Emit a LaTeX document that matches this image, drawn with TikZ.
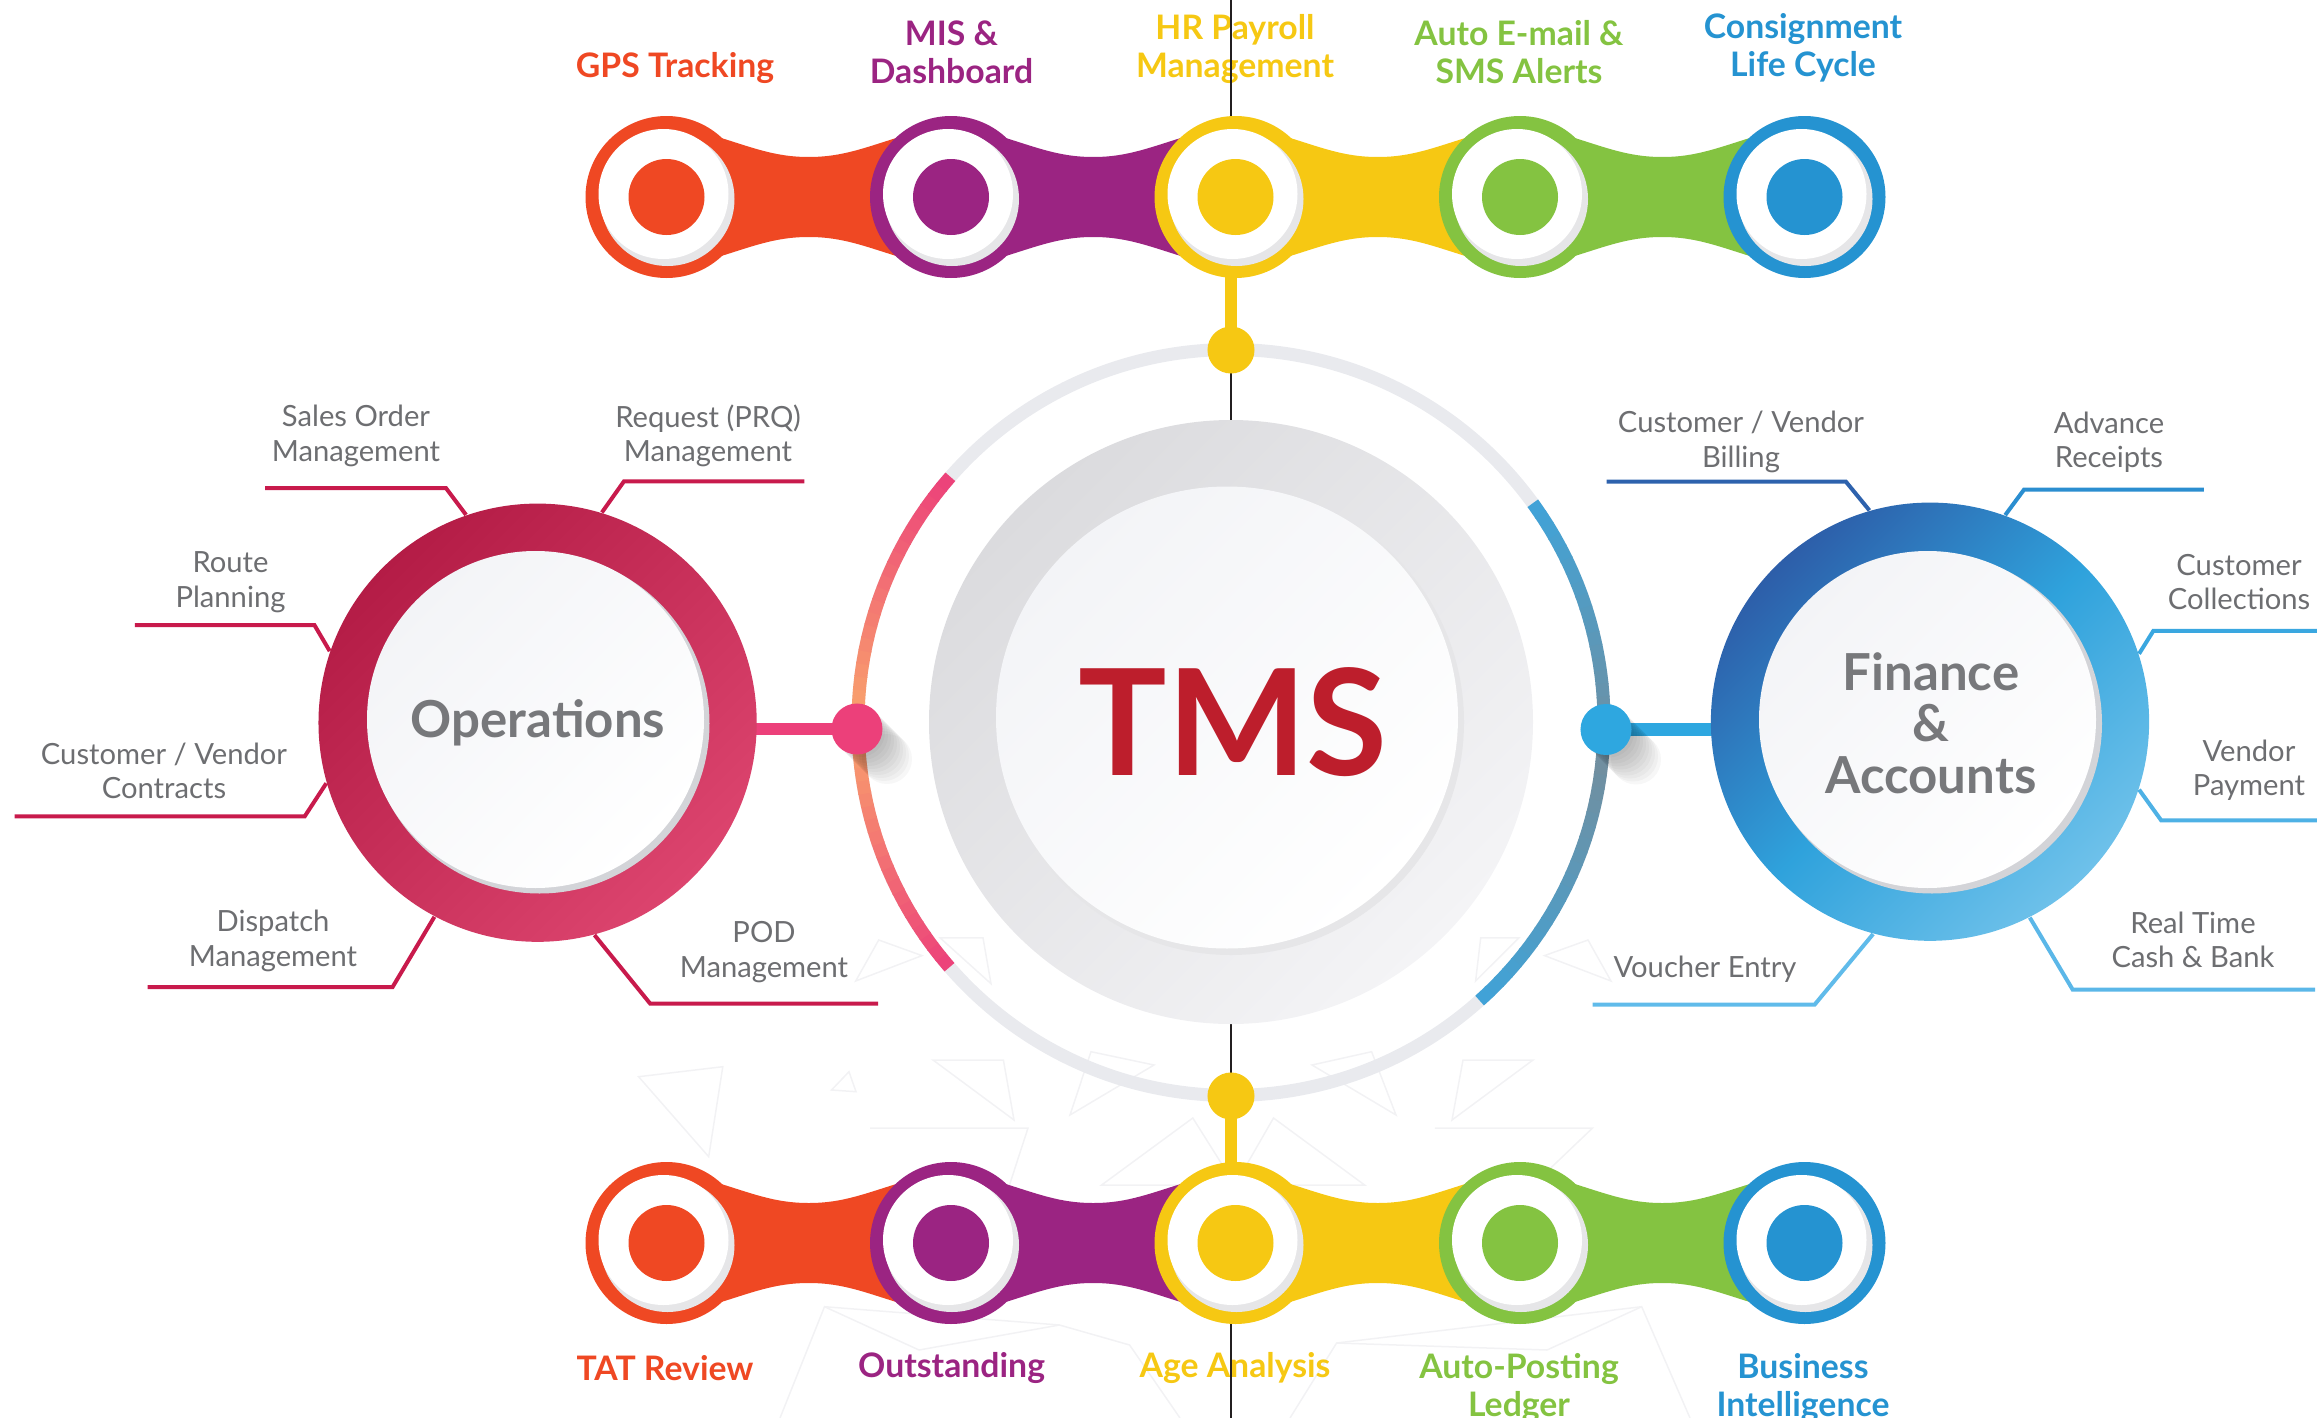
\documentclass[tikz,border=0pt]{standalone}
\usepackage{fontspec}
\setmainfont{Lato}
\usetikzlibrary{calc}

\definecolor{cOrange}{HTML}{EF4823}
\definecolor{cPurple}{HTML}{9B2482}
\definecolor{cYellow}{HTML}{F6C813}
\definecolor{cGreen}{HTML}{84C341}
\definecolor{cBlue}{HTML}{2593D1}
\definecolor{cText}{HTML}{6D6E71}
\definecolor{cTitle}{HTML}{77787B}
\definecolor{cTms}{HTML}{BD1E2C}
\definecolor{cRing}{HTML}{E9EAEE}
\definecolor{cPink}{HTML}{EC407A}
\definecolor{cPeach}{HTML}{F9A56C}
\definecolor{cSky}{HTML}{3FA3D9}
\definecolor{cSteel}{HTML}{728F9F}
\definecolor{cDot}{HTML}{2EA7E0}
\definecolor{cOpsA}{HTML}{B41C46}
\definecolor{cOpsB}{HTML}{DC446E}
\definecolor{cOpsLine}{HTML}{C81A4C}
\definecolor{cFinA}{HTML}{2D5EA9}
\definecolor{cFinM}{HTML}{2FA2DC}
\definecolor{cFinB}{HTML}{6EC1EA}
\definecolor{cFinLa}{HTML}{2E62AD}
\definecolor{cFinLb}{HTML}{2B8ED0}
\definecolor{cFinLc}{HTML}{3AA7E0}
\definecolor{cFinLd}{HTML}{4EB1E5}
\definecolor{cFinLe}{HTML}{5BB7E8}
\definecolor{cFinLf}{HTML}{60BBEA}
\definecolor{cShade}{HTML}{E6E6E8}
\definecolor{cRim}{HTML}{D3D4D8}
\definecolor{cWhiteA}{HTML}{F3F4F7}
\definecolor{cDiscA}{HTML}{DBDBDE}
\definecolor{cDiscB}{HTML}{F4F4F6}
\definecolor{cFaint}{HTML}{F2F2F4}
\definecolor{cLine}{HTML}{231F20}

\begin{document}
\begin{tikzpicture}[x=0.01cm, y=-0.01cm,
    graylbl/.style={text=cText, font=\fontsize{8.3}{9.8}\selectfont, align=center, inner sep=0pt},
    chainlbl/.style={font=\fontsize{9.6}{10.8}\selectfont\bfseries, align=center, inner sep=0pt},
    lead/.style={line width=0.04cm},
    faint/.style={draw=cFaint, line width=0.015cm},
    dotnode/.style={circle, inner sep=0pt, minimum size=0.51cm}]
\useasboundingbox (0,0) rectangle (2317,1418);

% faint background pattern
\draw[faint] (638.6,1076.7) -- (722.8,1066.7) -- (708.7,1156.7) -- cycle;
\draw[faint] (831.5,1090) -- (849,1071.7) -- (856,1091.7) -- cycle;
\draw[faint] (933,1060) -- (1003.4,1060) -- (1014,1120) -- cycle;
\draw[faint] (1070,1115) -- (1091,1051.7) -- (1154,1065) -- cycle;
\draw[faint] (1312,1065) -- (1371.6,1051.7) -- (1396,1115) -- cycle;
\draw[faint] (1463,1060) -- (1533,1060) -- (1452,1120) -- cycle;
\draw[faint] (855.7,981) -- (878.7,940) -- (922,955.6) -- cycle;
\draw[faint] (940,937.8) -- (983,937.8) -- (991,983.7) -- cycle;
\draw[faint] (1475.6,981) -- (1480.7,937.8) -- (1519,937.8) -- cycle;
\draw[faint] (1544.5,955.6) -- (1588,940) -- (1611,981) -- cycle;
\draw[faint] (870,1128) -- (1028,1128) -- (990,1245);
\draw[faint] (1434.8,1128) -- (1592.6,1128) -- (1470,1245);
\draw[faint] (1101.6,1185) -- (1192.8,1118) -- (1235,1185) -- (1273.5,1118) -- (1364.6,1185) -- cycle;
\draw[faint] (780,1418) -- (824.5,1306.7) -- (919,1350) -- (1059.5,1325) -- (1129.6,1345) -- (1180,1418);
\draw[faint] (1290,1418) -- (1336.6,1343) -- (1547,1350) -- (1641.7,1306.7) -- (1690,1418);
\draw[faint] (824.5,1306.7) -- (1059.5,1325);
\draw[faint] (1336.6,1343) -- (1641.7,1306.7);

% chain labels
\node[chainlbl, text=cOrange] (gps) at (675,68) {GPS Tracking};
\node[chainlbl, text=cPurple] (mis) at (951.5,52) {MIS \&\\Dashboard};
\node[chainlbl, text=cYellow] (hr) at (1235,49) {HR Payroll\\Management};
\node[chainlbl, text=cGreen] (mail) at (1519,52) {Auto E-mail \&\\SMS Alerts};
\node[chainlbl, text=cBlue] (cons) at (1803,48) {Consignment\\Life Cycle};
\node[chainlbl, text=cOrange] (tat) at (665,1368) {TAT Review};
\node[chainlbl, text=cPurple] (outs) at (951.6,1368) {Outstanding};
\node[chainlbl, text=cYellow] (age) at (1235,1368) {Age Analysis};
\node[chainlbl, text=cGreen] (post) at (1519,1388) {Auto-Posting\\Ledger};
\node[chainlbl, text=cBlue] (bi) at (1803,1388) {Business\\Intelligence};

% centre line
\coordinate (ltop) at (1231,0);
\coordinate (lbot) at (1231,1418);
\draw[cLine, line width=0.02cm] (ltop) -- (lbot);

% outer ring
\coordinate (tms) at (1231,722.5);
\draw[cRing, line width=0.13cm] (tms) circle (373);
\foreach \a in {139,141,...,219}{
  \pgfmathtruncatemacro\m{100*abs(\a+1-180)/41}
  \draw[cPink!\m!cPeach, line width=0.13cm] (tms) ++(\a:373) arc[start angle=\a, delta angle=2.2, radius=373];
}
\foreach \a in {-36,-34,...,46}{
  \pgfmathtruncatemacro\m{100*abs(\a+1-6)/42}
  \draw[cSky!\m!cSteel, line width=0.13cm] (tms) ++(\a:373) arc[start angle=\a, delta angle=2.2, radius=373];
}

% stems, bars and dots
\coordinate (opsc) at (537.6,722.7);
\coordinate (finc) at (1930,721.7);
\coordinate (pd) at (857,729);
\coordinate (bd) at (1606,729.5);
\coordinate (yt) at (1231,350);
\coordinate (yb) at (1231,1096);
\coordinate (hrlink) at (1235.5,197);
\coordinate (agelink) at (1235.5,1243);
\draw[cYellow, line width=0.12cm] (yt) -- (yt |- hrlink);
\draw[cYellow, line width=0.12cm] (yb) -- (yb |- agelink);
\draw[cPink, line width=0.117cm] (pd) -- (pd -| opsc);
\draw[cDot, line width=0.125cm] (bd) -- (bd -| finc);
\foreach \k in {1,...,10}{
  \fill[black, opacity=0.03] (857+3*\k,729+3*\k) circle (25);
  \fill[black, opacity=0.03] (1606+3*\k,729.5+3*\k) circle (25);
}
\node[dotnode, fill=cPink] (pdot) at (pd) {};
\node[dotnode, fill=cDot] (bdot) at (bd) {};
\node[dotnode, fill=cYellow, minimum size=0.47cm] (ydtop) at (yt) {};
\node[dotnode, fill=cYellow, minimum size=0.47cm] (ydbot) at (yb) {};

% TMS disc
\shade[top color=cDiscA, bottom color=cDiscB, shading angle=45] (1231,722) circle (302);
\fill[cShade] (1231,722) circle (233);
\shade[top color=cWhiteA, bottom color=white, shading angle=45] (1227,717.5) circle (231);
\node[font=\fontsize{42}{42}\selectfont\bfseries, text=cTms, inner sep=0pt] (tmstext) at (1233,722) {TMS};

% Operations
\node[circle, minimum size=4.38cm, inner sep=0pt, top color=cOpsA, bottom color=cOpsB, shading angle=45] (ops) at (opsc) {};
\fill[cRim] (539.5,723.5) circle (170);
\shade[top color=cWhiteA, bottom color=white, shading angle=45] (535.5,719.5) circle (168.5);
\node[font=\fontsize{14.5}{14.5}\selectfont\bfseries, text=cTitle, anchor=base, inner sep=0pt] (opstext) at (538,737) {Operations};

\draw[lead, cOpsLine] (ops.109.3) -- ++(-20,-26.7) -- ++(-181,0);
\draw[lead, cOpsLine] (ops.73.9) -- ++(22,-31) -- ++(180.4,0);
\draw[lead, cOpsLine] (ops.161.6) -- ++(-15.2,-25.9) -- ++(-179.6,0);
\draw[lead, cOpsLine] (ops.196.5) -- ++(-21.6,33.1) -- ++(-290,0);
\draw[lead, cOpsLine] (ops.242.6) -- ++(-41.8,70.2) -- ++(-245,0);
\draw[lead, cOpsLine] (ops.285) -- ++(55.7,68.6) -- ++(228,0);

\node[graylbl] (sales) at (356,436) {Sales Order\\Management};
\node[graylbl] (prq) at (708,436) {Request (PRQ)\\Management};
\node[graylbl] (route) at (230.5,582) {Route\\Planning};
\node[graylbl] (contr) at (164,771) {Customer / Vendor\\Contracts};
\node[graylbl] (disp) at (273,941) {Dispatch\\Management};
\node[graylbl] (pod) at (764,952) {POD\\Management};

% Finance & Accounts
\node[circle, minimum size=4.38cm, inner sep=0pt, top color=cFinA, bottom color=cFinB, middle color=cFinM, shading angle=45] (fin) at (finc) {};
\fill[cRim] (1932,723.5) circle (170);
\shade[top color=cWhiteA, bottom color=white, shading angle=45] (1927.5,719.5) circle (168.5);
\node[font=\fontsize{14.5}{14.6}\selectfont\bfseries, text=cTitle, align=center, inner sep=0pt] (fintext) at (1931,723) {Finance\\\&\\Accounts};

\draw[lead, cFinLa] (fin.106.3) -- ++(-23.5,-28.7) -- ++(-239.2,0);
\draw[lead, cFinLb] (fin.70.3) -- ++(18.9,-25.6) -- ++(179.8,0);
\draw[lead, cFinLc] (fin.18.9) -- ++(14.2,-22.8) -- ++(170,0);
\draw[lead, cFinLd] (fin.342.4) -- ++(22.1,30.7) -- ++(160,0);
\draw[lead, cFinLe] (fin.297.2) -- ++(42.9,72.1) -- ++(242.5,0);
\draw[lead, cFinLf] (fin.255.3) -- ++(-58.4,70.5) -- ++(-222.2,0);

\node[graylbl] (bill) at (1741,442) {Customer / Vendor\\Billing};
\node[graylbl] (adv) at (2109,442) {Advance\\Receipts};
\node[graylbl] (coll) at (2239,582) {Customer\\Collections};
\node[graylbl] (vpay) at (2249,770) {Vendor\\Payment};
\node[graylbl] (cash) at (2193,940) {Real Time\\Cash \& Bank};
\node[graylbl] (vouch) at (1705,969) {Voucher Entry};

% chains
\foreach \cy in {197,1243}{
  \foreach \cx/\col in {666.5/cOrange, 951/cPurple, 1235.5/cYellow, 1520/cGreen}{
    \fill[\col] (\cx+45,\cy-62) .. controls (\cx+85,\cy-50) and (\cx+107,\cy-40) .. (\cx+142.25,\cy-40)
      .. controls (\cx+177.5,\cy-40) and (\cx+199.5,\cy-50) .. (\cx+239.5,\cy-62)
      -- (\cx+239.5,\cy+62) .. controls (\cx+199.5,\cy+50) and (\cx+177.5,\cy+40) .. (\cx+142.25,\cy+40)
      .. controls (\cx+107,\cy+40) and (\cx+85,\cy+50) .. (\cx+45,\cy+62) -- cycle;
  }
  \foreach \cx/\col in {666.5/cOrange, 951/cPurple, 1235.5/cYellow, 1520/cGreen, 1804.5/cBlue}{
    \fill[\col] (\cx,\cy) circle (81);
    \fill[cShade] (\cx+1,\cy+2) circle (67);
    \fill[white] (\cx-3,\cy-3) circle (65);
    \fill[\col] (\cx,\cy) circle (38);
  }
}
\end{tikzpicture}
\end{document}
